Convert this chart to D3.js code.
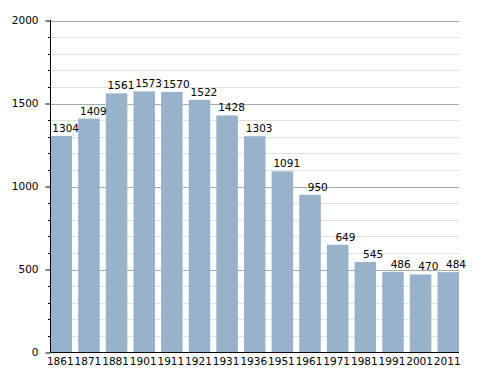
<!DOCTYPE html>
<html><head><meta charset="utf-8">
<script src="https://cdn.jsdelivr.net/npm/d3@7"></script>
<style>body{margin:0;background:#fff}text{font-family:"DejaVu Sans",sans-serif;font-size:10.5px;fill:#000}</style>
</head><body>
<svg id="c" width="488" height="373"></svg>
<script>
const years = ["1861","1871","1881","1901","1911","1921","1931","1936","1951","1961","1971","1981","1991","2001","2011"];
const population = [1304,1409,1561,1573,1570,1522,1428,1303,1091,950,649,545,486,470,484];
const yTicks = [0,500,1000,1500,2000];

(function(){
const svg = d3.select("#c");
const mL = 50.5, mR = 459, mT = 20.5, mB = 352.5;
const x = d3.scaleBand().domain(years).range([mL, mR]).paddingInner(0.22).paddingOuter(0.0);
const y = d3.scaleLinear().domain([0,2000]).range([mB, mT]);
const minor = d3.range(100,2000,100).filter(v=>v%500);

svg.append("g").selectAll("line").data(minor).join("line")
  .attr("x1",mL).attr("x2",mR).attr("y1",d=>Math.round(y(d))+0.5).attr("y2",d=>Math.round(y(d))+0.5)
  .attr("stroke","#e0e0e0").attr("stroke-width",1);
svg.append("g").selectAll("line").data(yTicks.slice(1)).join("line")
  .attr("x1",mL).attr("x2",mR).attr("y1",d=>Math.round(y(d))+0.5).attr("y2",d=>Math.round(y(d))+0.5)
  .attr("stroke","#aaaaaa").attr("stroke-width",1);

svg.append("g").selectAll("rect").data(years).join("rect")
  .attr("x",(d)=>x(d)).attr("width",x.bandwidth())
  .attr("y",(d,i)=>y(population[i])).attr("height",(d,i)=>mB-0.5-y(population[i]))
  .attr("fill","#99b2cc");

svg.append("g").selectAll("text").data(years).join("text")
  .attr("x",d=>x(d)+x.bandwidth()+7).attr("y",(d,i)=>y(population[i])-4)
  .attr("text-anchor","end").text((d,i)=>population[i]);

const ya = d3.axisLeft(y).tickValues(yTicks).tickSize(5).tickFormat(d3.format("d"));
const gy = svg.append("g").attr("transform",`translate(${mL},0)`).call(ya);
gy.select(".domain").attr("stroke","#000").attr("d",`M0,${mB}V${mT-0.5}`);
gy.selectAll(".tick line").attr("stroke","#000");
gy.selectAll(".tick text").attr("x",-12).style("font-family","DejaVu Sans").style("font-size","10.5px");
svg.append("g").selectAll("line").data(minor).join("line")
  .attr("x1",mL-2.5).attr("x2",mL).attr("y1",d=>Math.round(y(d))+0.5).attr("y2",d=>Math.round(y(d))+0.5)
  .attr("stroke","#000");

const xa = d3.axisBottom(x).tickSize(0).tickPadding(5);
const gx = svg.append("g").attr("transform",`translate(0,${mB})`).call(xa);
gx.select(".domain").attr("stroke","#000").attr("d",`M${mL},0H${mR}`);
gx.selectAll(".tick text").attr("dx",-1).style("font-family","DejaVu Sans").style("font-size","10.5px");
})();
</script>
</body></html>
